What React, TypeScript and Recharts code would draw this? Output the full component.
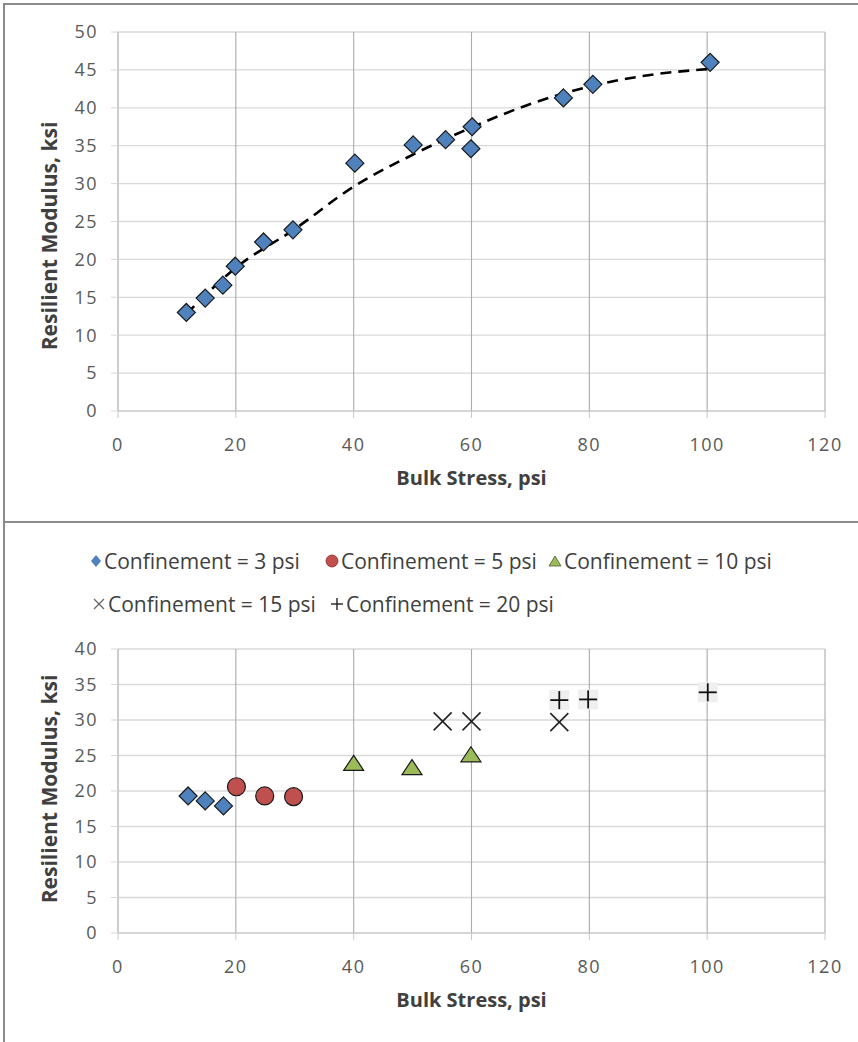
import { CartesianGrid, ComposedChart, Line, Scatter, XAxis, YAxis } from 'recharts'

// top panel: all specimens + power-ish trend
const topStress = [11.6, 14.8, 17.8, 19.9, 24.7, 29.7, 40.2, 50.1, 55.6, 60.1, 59.9, 75.6, 80.6, 100.5]
const topModulus = [13.0, 14.9, 16.6, 19.1, 22.3, 23.9, 32.7, 35.1, 35.8, 37.5, 34.6, 41.3, 43.1, 46.0]
const trendStress = [11.6, 20, 30, 40, 50, 60, 70, 80, 90, 100]
const trendModulus = [12.8, 18.9, 24.0, 29.6, 33.8, 37.4, 40.5, 42.8, 44.3, 45.1]

// bottom panel: by confinement
const conf3Stress = [11.9, 14.8, 17.9]
const conf3Modulus = [19.3, 18.6, 17.9]
const conf5Stress = [20.1, 24.9, 29.8]
const conf5Modulus = [20.6, 19.3, 19.2]
const conf10Stress = [40.0, 49.9, 59.9]
const conf10Modulus = [23.9, 23.3, 25.1]
const conf15Stress = [55.1, 60.0, 74.9]
const conf15Modulus = [29.8, 29.8, 29.7]
const conf20Stress = [74.9, 79.8, 100.1]
const conf20Modulus = [32.8, 32.9, 33.9]

const xTicks = [0, 20, 40, 60, 80, 100, 120]
const topYTicks = [0, 5, 10, 15, 20, 25, 30, 35, 40, 45, 50]
const bottomYTicks = [0, 5, 10, 15, 20, 25, 30, 35, 40]

const legendNames = [
  'Confinement = 3 psi',
  'Confinement = 5 psi',
  'Confinement = 10 psi',
  'Confinement = 15 psi',
  'Confinement = 20 psi',
]

const FONT = '"Open Sans", "Liberation Sans", sans-serif'
const BLUE = '#4f81bd'
const RED = '#c0504d'
const GREEN = '#9bbb59'
const EDGE = '#1a1a1a'

const zip = (xs: number[], ys: number[]) => xs.map((x, i) => ({ x, y: ys[i] }))

const topPoints = zip(topStress, topModulus)
const trendPoints = zip(trendStress, trendModulus)
const conf3 = zip(conf3Stress, conf3Modulus)
const conf5 = zip(conf5Stress, conf5Modulus)
const conf10 = zip(conf10Stress, conf10Modulus)
const conf15 = zip(conf15Stress, conf15Modulus)
const conf20 = zip(conf20Stress, conf20Modulus)

/* ─── marker shapes ───────────────────────────────────── */

type Pt = { cx?: number; cy?: number }

const Diamond = ({ cx = 0, cy = 0 }: Pt) => (
  <path
    d={`M${cx},${cy - 9} L${cx + 9},${cy} L${cx},${cy + 9} L${cx - 9},${cy} Z`}
    fill={BLUE}
    stroke={EDGE}
    strokeWidth={1.2}
  />
)

const Dot = ({ cx = 0, cy = 0 }: Pt) => (
  <circle cx={cx} cy={cy} r={9} fill={RED} stroke={EDGE} strokeWidth={1.2} />
)

const Tri = ({ cx = 0, cy = 0 }: Pt) => (
  <path
    d={`M${cx},${cy - 8} L${cx + 10},${cy + 7} L${cx - 10},${cy + 7} Z`}
    fill={GREEN}
    stroke={EDGE}
    strokeWidth={1.2}
  />
)

const Cross = ({ cx = 0, cy = 0 }: Pt) => (
  <g stroke="#222" strokeWidth={1.6}>
    <line x1={cx - 9} y1={cy - 9} x2={cx + 9} y2={cy + 9} />
    <line x1={cx - 9} y1={cy + 9} x2={cx + 9} y2={cy - 9} />
  </g>
)

const Plus = ({ cx = 0, cy = 0 }: Pt) => (
  <g>
    <rect x={cx - 10} y={cy - 10} width={20} height={20} fill="#efefef" />
    <g stroke="#111" strokeWidth={1.8}>
      <line x1={cx - 9} y1={cy} x2={cx + 9} y2={cy} />
      <line x1={cx} y1={cy - 9} x2={cx} y2={cy + 9} />
    </g>
  </g>
)

/* ─── axis titles ─────────────────────────────────────── */

const XTitle = ({ viewBox }: { viewBox?: { x: number; y: number; width: number } }) => {
  if (!viewBox) return null
  return (
    <text
      x={viewBox.x + viewBox.width / 2}
      y={viewBox.y + 74}
      textAnchor="middle"
      fontFamily={FONT}
      fontSize={20}
      fontWeight={700}
      fill="#404040"
    >
      Bulk Stress, psi
    </text>
  )
}

const makeYTitle = (cy: number) => () => (
  <text
    x={49}
    y={cy}
    transform={`rotate(-90, 49, ${cy})`}
    textAnchor="middle"
    dominantBaseline="central"
    fontFamily={FONT}
    fontSize={21}
    fontWeight={700}
    fill="#404040"
  >
    Resilient Modulus, ksi
  </text>
)

const tickStyle = { fill: '#595959', fontSize: 18, fontFamily: FONT, letterSpacing: 1.5 }

/* ─── legend (bottom panel) ───────────────────────────── */

const legendIcons = [
  <svg width={12} height={14} key="d"><path d="M6,1 L11,7 L6,13 L1,7 Z" fill={BLUE} /></svg>,
  <svg width={14} height={14} key="c"><circle cx={7} cy={7} r={6} fill={RED} stroke="#8a2a28" strokeWidth={0.8} /></svg>,
  <svg width={14} height={14} key="t"><path d="M7,2 L13,12 L1,12 Z" fill={GREEN} stroke="#4b5e2a" strokeWidth={0.8} /></svg>,
  <svg width={14} height={14} key="x"><g stroke="#666" strokeWidth={1.2}><line x1={2} y1={2} x2={12} y2={12} /><line x1={2} y1={12} x2={12} y2={2} /></g></svg>,
  <svg width={14} height={14} key="p"><g stroke="#222" strokeWidth={1.4}><line x1={1} y1={7} x2={13} y2={7} /><line x1={7} y1={1} x2={7} y2={13} /></g></svg>,
]

const legendLeft = [90, 325, 548, 92, 330]
const legendTop = [561, 561, 561, 604, 604]

function ConfinementLegend() {
  return (
    <>
      {legendNames.map((name, i) => (
        <div
          key={name}
          style={{
            position: 'absolute',
            left: legendLeft[i],
            top: legendTop[i] - 15,
            height: 30,
            display: 'flex',
            alignItems: 'center',
            gap: 2,
            fontFamily: FONT,
            fontSize: 21,
            color: '#404040',
            whiteSpace: 'nowrap',
          }}
        >
          {legendIcons[i]}
          <span>{name}</span>
        </div>
      ))}
    </>
  )
}

export default function App() {
  return (
    <div style={{ position: 'absolute', left: 0, top: 0, width: 858, height: 1042, background: '#fff', overflow: 'hidden' }}>
      {/* frame lines */}
      <div style={{ position: 'absolute', left: 3, top: 3, width: 855, height: 0, borderTop: '2px solid #8c8c8c' }} />
      <div style={{ position: 'absolute', left: 3, top: 3, width: 0, height: 1039, borderLeft: '2px solid #8c8c8c' }} />
      <div style={{ position: 'absolute', left: 3, top: 521, width: 855, height: 0, borderTop: '2px solid #8c8c8c' }} />

      <div style={{ position: 'absolute', left: 0, top: 0 }}>
        <ComposedChart width={858} height={520} margin={{ top: 32, right: 33, left: 58, bottom: 49 }}>
          <CartesianGrid vertical={false} stroke="#d9d9d9" strokeWidth={1.3} />
          <CartesianGrid horizontal={false} stroke="#ababab" strokeWidth={1.1} />
          <XAxis
            type="number"
            dataKey="x"
            domain={[0, 120]}
            ticks={xTicks}
            height={60}
            tickSize={7}
            tickMargin={20}
            tick={tickStyle}
            axisLine={{ stroke: '#c8c8c8' }}
            tickLine={{ stroke: '#c8c8c8' }}
            label={<XTitle />}
          />
          <YAxis
            type="number"
            dataKey="y"
            domain={[0, 50]}
            ticks={topYTicks}
            width={60}
            tickSize={7}
            tickMargin={13}
            tick={tickStyle}
            axisLine={{ stroke: '#c8c8c8' }}
            tickLine={{ stroke: '#d9d9d9' }}
            label={makeYTitle(236)}
          />
          <Line
            data={trendPoints}
            dataKey="y"
            type="monotone"
            stroke="#000"
            strokeWidth={2.6}
            strokeDasharray="11 7"
            dot={false}
            activeDot={false}
            isAnimationActive={false}
          />
          <Scatter data={topPoints} shape={Diamond} isAnimationActive={false} />
        </ComposedChart>
      </div>

      <ConfinementLegend />

      <div style={{ position: 'absolute', left: 0, top: 524 }}>
        <ComposedChart width={858} height={518} margin={{ top: 125, right: 33, left: 58, bottom: 49 }}>
          <CartesianGrid vertical={false} stroke="#d9d9d9" strokeWidth={1.3} />
          <CartesianGrid horizontal={false} stroke="#ababab" strokeWidth={1.1} />
          <XAxis
            type="number"
            dataKey="x"
            domain={[0, 120]}
            ticks={xTicks}
            height={60}
            tickSize={7}
            tickMargin={20}
            tick={tickStyle}
            axisLine={{ stroke: '#c8c8c8' }}
            tickLine={{ stroke: '#c8c8c8' }}
            label={<XTitle />}
          />
          <YAxis
            type="number"
            dataKey="y"
            domain={[0, 40]}
            ticks={bottomYTicks}
            width={60}
            tickSize={7}
            tickMargin={13}
            tick={tickStyle}
            axisLine={{ stroke: '#c8c8c8' }}
            tickLine={{ stroke: '#d9d9d9' }}
            label={makeYTitle(265)}
          />
          <Scatter name={legendNames[0]} data={conf3} shape={Diamond} isAnimationActive={false} />
          <Scatter name={legendNames[1]} data={conf5} shape={Dot} isAnimationActive={false} />
          <Scatter name={legendNames[2]} data={conf10} shape={Tri} isAnimationActive={false} />
          <Scatter name={legendNames[3]} data={conf15} shape={Cross} isAnimationActive={false} />
          <Scatter name={legendNames[4]} data={conf20} shape={Plus} isAnimationActive={false} />
        </ComposedChart>
      </div>
    </div>
  )
}
